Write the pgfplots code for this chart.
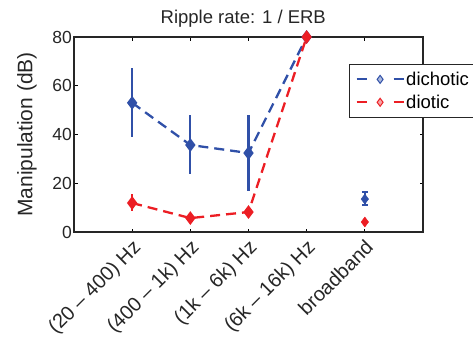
\documentclass[border=0pt]{standalone}
\usepackage{pgfplots}
\pgfplotsset{compat=1.18}
\usepackage{fontspec}
\setmainfont{Liberation Sans}
\definecolor{cblue}{RGB}{48,80,168}
\definecolor{cred}{RGB}{236,30,36}
\newcommand{\xtf}{\fontsize{20}{24}\selectfont}
\begin{document}
\begin{tikzpicture}[x=1pt,y=1pt]
\begin{axis}[
  at={(0,0)}, anchor=south west,
  scale only axis, width=349pt, height=195pt,
  xmin=0, xmax=6, ymin=0, ymax=80,
  xtick={1,2,3,4,5},
  xticklabels={{\xtf (20 -- 400) Hz},{\xtf (400 -- 1k) Hz},{\xtf (1k -- 6k) Hz},{\xtf (6k -- 16k) Hz},{\xtf broadband}},
  ytick={0,20,40,60,80},
  tick align=inside, major tick length=3.5pt,
  tick style={black, line width=1pt},
  axis line style={line width=2.6pt, black!85},
  /pgf/number format/assume math mode=true,
  yticklabel style={font=\fontsize{17.5}{20}\selectfont, black!85, inner sep=2pt},
  xticklabel style={font=\xtf, black!85, rotate=45, anchor=north east, inner sep=0pt, xshift=-5pt, yshift=-4pt},
  title={Ripple rate: 1 / ERB},
  title style={font=\fontsize{18.5}{22}\selectfont, at={(axis description cs:0.485,1)}, anchor=south, yshift=0pt, black!85},
  ylabel={Manipulation (dB)},
  ylabel style={font=\fontsize{21}{24}\selectfont, at={(axis description cs:-0.135,0.5)}, anchor=center, rotate=0, black!85},
  legend style={at={(axis description cs:0.788,0.862)}, anchor=north west, font=\fontsize{18.5}{22}\selectfont, draw=black!85, line width=1pt, inner xsep=6pt, inner ysep=6pt, row sep=5pt, nodes={inner sep=1.5pt},
    /tikz/every even column/.append style={column sep=5pt}},
  legend cell align=left,
  clip=false,
]
\addplot[cblue, line width=2.3pt, dash pattern=on 10pt off 6pt,
  mark=diamond*, mark size=5pt, mark options={solid},
  legend image code/.code={
    \draw[cblue, line width=2.2pt, solid] (0pt,0pt) -- (10pt,0pt) (37pt,0pt) -- (47pt,0pt);
    \draw[cblue, solid, line width=1pt, fill=cblue!40] (23.5pt,-4pt) -- (26.5pt,0pt) -- (23.5pt,4pt) -- (20.5pt,0pt) -- cycle;
  },
  error bars/.cd, y dir=both, y explicit, error mark=none,
  error bar style={line width=2.3pt, solid}]
coordinates {
(1,53) += (0,14.2) -= (0,14)
(2,35.7) += (0,12.3) -= (0,12)
(3,32.4) += (0,15.6) -= (0,15.6)
(4,80) += (0,0) -= (0,0)
};
\addlegendentry{dichotic}
\addplot[cred, line width=2.3pt, dash pattern=on 10pt off 6pt,
  mark=diamond*, mark size=5pt, mark options={solid},
  legend image code/.code={
    \draw[cred, line width=2.2pt, solid] (0pt,0pt) -- (10pt,0pt) (37pt,0pt) -- (47pt,0pt);
    \draw[cred, solid, line width=1pt, fill=cred!40] (23.5pt,-4pt) -- (26.5pt,0pt) -- (23.5pt,4pt) -- (20.5pt,0pt) -- cycle;
  },
  error bars/.cd, y dir=both, y explicit, error mark=none,
  error bar style={line width=2.3pt, solid}]
coordinates {
(1,11.9) += (0,3.6) -= (0,3.2)
(2,5.7) += (0,0) -= (0,0)
(3,8.2) += (0,0) -= (0,0)
(4,80) += (0,0) -= (0,0)
};
\addlegendentry{diotic}
\addplot[cblue, only marks, mark=diamond*, mark size=5pt, forget plot,
  error bars/.cd, y dir=both, y explicit,
  error mark options={rotate=90, mark size=3pt, line width=2pt},
  error bar style={line width=2.3pt}]
coordinates {(5,13.5) += (0,3) -= (0,2.5)};
\addplot[cred, only marks, mark=diamond*, mark size=5pt, forget plot]
coordinates {(5,4.1)};
\end{axis}
\pgfresetboundingbox
\useasboundingbox (-74,-106) rectangle (399,232);
\end{tikzpicture}
\end{document}
